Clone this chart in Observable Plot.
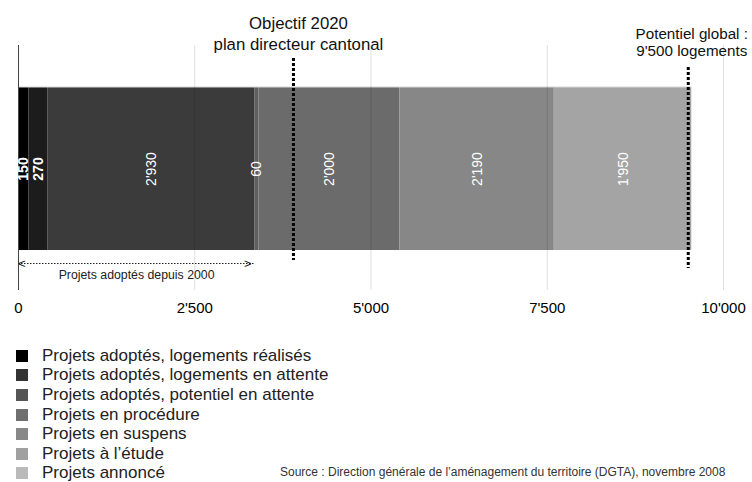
<!DOCTYPE html>
<html>
<head>
<meta charset="utf-8">
<script src="https://cdn.jsdelivr.net/npm/d3@7"></script>
<script src="https://cdn.jsdelivr.net/npm/@observablehq/plot@0.6"></script>
<style>
  body { margin: 0; background: #fff; font-family: "Liberation Sans", Arial, Helvetica, sans-serif; }
  #wrap { position: relative; width: 752px; height: 482px; overflow: hidden; }
  #chart { position: absolute; left: 0; top: 0; }
  .legend { position: absolute; left: 16px; top: 346px; }
  .row { display: flex; align-items: center; height: 19.6px; font-size: 17px; color: #222; white-space: nowrap; }
  .sw { width: 12px; height: 12px; margin-right: 14px; flex: none; }
  .source { position: absolute; left: 280px; top: 465px; font-size: 12px; color: #333; white-space: nowrap; }
</style>
</head>
<body>
<div id="wrap">
  <div id="chart"></div>
  <div class="legend" id="legend"></div>
  <div class="source">Source : Direction générale de l’aménagement du territoire (DGTA), novembre 2008</div>
</div>
<script>
// Housing potential by project status (number of dwellings)
const categories = [
  "Projets adoptés, logements réalisés",
  "Projets adoptés, logements en attente",
  "Projets adoptés, potentiel en attente",
  "Projets en procédure",
  "Projets en suspens",
  "Projets à l’étude",
  "Projets annoncé"
];
const values = [150, 270, 2930, 60, 2000, 2190, 1950];
const valueLabels = ["150", "270", "2'930", "60", "2'000", "2'190", "1'950"];

// Shades of the stacked bar, and of the key swatches
const barShades = ["#000000", "#1c1c1c", "#3b3b3b", "#606060", "#6b6b6b", "#878787", "#a4a4a4"];
const keyShades = ["#000000", "#333333", "#555555", "#6f6f6f", "#888888", "#a0a0a0", "#bababa"];

const ticks = [0, 2500, 5000, 7500, 10000];
const tickLabels = ["0", "2'500", "5'000", "7'500", "10'000"];

// Reference levels
const objectif2020 = 3900;
const potentielGlobal = 9500;
const adoptedSince2000 = values[0] + values[1] + values[2];

const band = "Logements";
const rows = categories.map((c, i) => ({category: c, value: values[i], label: valueLabels[i], band}));

const arrowY = 94.5;   // offset of the bracket below the bar centre

// segment labels: stacked first, then split by weight
const stackedLabel = {x: "value", y: "band", text: "label", rotate: -90, fill: "white", fontSize: 14};

const chart = Plot.plot({
  width: 752,
  height: 330,
  marginLeft: 18,
  marginRight: 29,
  marginTop: 45,
  marginBottom: 40,
  style: {fontFamily: "'Liberation Sans', Arial, Helvetica, sans-serif", fontSize: "15px", color: "#000", background: "#fff"},
  x: {
    domain: [0, 10000],
    ticks: ticks,
    tickFormat: d => tickLabels[ticks.indexOf(d)],
    tickSize: 0,
    tickPadding: 12,
    label: null
  },
  y: {type: "band", domain: [band], range: [87, 250], padding: 0, axis: null},
  color: {type: "ordinal", domain: categories, range: barShades},
  marks: [
    // stacked bar
    Plot.barX(rows, Plot.stackX({x: "value", y: "band", fill: "category"})),
    // light top edge of the bar
    Plot.ruleY([band], {x1: 0, x2: d3.sum(values), dy: -82, stroke: "#d6d6d6", strokeWidth: 1.2}),
    // vertical grid
    Plot.ruleX(ticks.slice(1), {stroke: "#000", strokeOpacity: 0.13}),
    Plot.ruleX([0], {stroke: "#444"}),
    // values inside the segments
    Plot.text(rows, Plot.filter((d, i) => i < 2, Plot.stackX({...stackedLabel, fontWeight: "bold"}))),
    Plot.text(rows, Plot.filter((d, i) => i >= 2, Plot.stackX(stackedLabel))),
    // target lines
    Plot.ruleX([objectif2020], {stroke: "#000", strokeWidth: 3, strokeDasharray: "3,2", insetTop: 13, insetBottom: 30}),
    Plot.ruleX([potentielGlobal], {stroke: "#000", strokeWidth: 3, strokeDasharray: "3,2", insetTop: 22, insetBottom: 22}),
    Plot.text([objectif2020], {
      x: d => d, frameAnchor: "top", text: () => "Objectif 2020\nplan directeur cantonal",
      dx: 5, dy: -13, lineAnchor: "middle", lineHeight: 1.3, fontSize: 16.8, fill: "#111"
    }),
    Plot.text([potentielGlobal], {
      x: d => d, frameAnchor: "top", text: () => "Potentiel global :\n9'500 logements",
      dx: 3.5, dy: -3.5, lineAnchor: "middle", lineHeight: 1.12, fontSize: 15.2, fill: "#111"
    }),
    // bracket under the adopted projects
    Plot.ruleY([band], {x1: 0, x2: adoptedSince2000, dy: arrowY, stroke: "#222", strokeDasharray: "1.5,1.5"}),
    Plot.text([0], {x: d => d, y: () => band, text: () => "<", textAnchor: "start", dy: arrowY, dx: -0.5, fontSize: 13, fill: "#222"}),
    Plot.text([adoptedSince2000], {x: d => d, y: () => band, text: () => ">", textAnchor: "end", dy: arrowY, dx: -3, fontSize: 13, fill: "#222"}),
    Plot.text([adoptedSince2000 / 2], {
      x: d => d, y: () => band, text: () => "Projets adoptés depuis 2000",
      dy: arrowY + 11.5, fontSize: 12.3, fill: "#222"
    })
  ]
});
document.getElementById("chart").appendChild(chart);

// key
const legend = d3.select("#legend");
categories.forEach((c, i) => {
  const row = legend.append("div").attr("class", "row");
  row.append("div").attr("class", "sw").style("background", keyShades[i]);
  row.append("span").text(c);
});
</script>
</body>
</html>
